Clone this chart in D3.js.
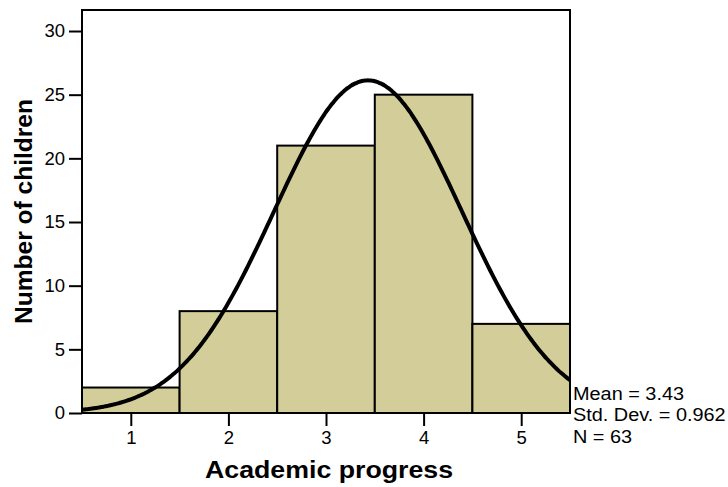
<!DOCTYPE html>
<html>
<head>
<meta charset="utf-8">
<script src="https://cdn.jsdelivr.net/npm/d3@7/dist/d3.min.js"></script>
<style>
  html, body { margin: 0; padding: 0; background: #fff; }
  svg text { font-family: "Liberation Sans", Arial, Helvetica, sans-serif; fill: #000; }
</style>
</head>
<body>
<svg id="chart" width="728" height="487"></svg>
<script>
// Histogram of academic progress scores (bins centred on 1..5)
const binCenters = [1, 2, 3, 4, 5];
const binCounts = [2, 8, 21, 25, 7];
const yTicks = [0, 5, 10, 15, 20, 25, 30];
const xTicks = [1, 2, 3, 4, 5];
const stats = { mean: 3.43, sd: 0.962, n: 63 };
const statLines = ["Mean = 3.43", "Std. Dev. = 0.962", "N = 63"];

const svg = d3.select("#chart");
const margin = { left: 82, right: 158, top: 10, bottom: 74 };
const W = 728, H = 487;
const x0 = margin.left, x1 = W - margin.right;
const y0 = H - margin.bottom, y1 = margin.top;

const x = d3.scaleLinear().domain([0.5, 5.5]).range([x0, x1]);
const y = d3.scaleLinear().domain([0, 31.65]).range([y0, y1]);

// bars
svg.append("g").selectAll("rect")
  .data(binCenters.map((c, i) => ({ c, v: binCounts[i] })))
  .join("rect")
  .attr("x", d => x(d.c - 0.5))
  .attr("width", d => x(d.c + 0.5) - x(d.c - 0.5))
  .attr("y", d => y(d.v))
  .attr("height", d => y(0) - y(d.v))
  .attr("fill", "#d3ce99")
  .attr("stroke", "#000")
  .attr("stroke-width", 2);

// fitted normal curve, scaled to counts per unit-width bin
const binWidth = 1;
const normal = t => stats.n * binWidth / (stats.sd * Math.sqrt(2 * Math.PI)) *
  Math.exp(-0.5 * Math.pow((t - stats.mean) / stats.sd, 2));
const curvePts = d3.range(0.5, 5.5001, 0.02).map(t => [t, normal(t)]);
svg.append("path")
  .datum(curvePts)
  .attr("fill", "none")
  .attr("stroke", "#000")
  .attr("stroke-width", 4)
  .attr("d", d3.line().x(d => x(d[0])).y(d => y(d[1])).curve(d3.curveBasis));

// plot frame
svg.append("rect")
  .attr("x", x0).attr("y", y1)
  .attr("width", x1 - x0).attr("height", y0 - y1)
  .attr("fill", "none").attr("stroke", "#000").attr("stroke-width", 2);

// y axis
const yAxis = svg.append("g")
  .attr("transform", `translate(${x0},0)`)
  .call(d3.axisLeft(y).tickValues(yTicks).tickFormat(d3.format("d")).tickSize(13).tickPadding(4));
yAxis.select(".domain").remove();
yAxis.selectAll(".tick line").attr("stroke", "#000").attr("stroke-width", 2);
yAxis.selectAll(".tick text").attr("font-size", 18.5)
  .style("font-family", '"Liberation Sans", Arial, sans-serif');

// x axis
const xAxis = svg.append("g")
  .attr("transform", `translate(0,${y0})`)
  .call(d3.axisBottom(x).tickValues(xTicks).tickFormat(d3.format("d")).tickSize(13).tickPadding(5));
xAxis.select(".domain").remove();
xAxis.selectAll(".tick line").attr("stroke", "#000").attr("stroke-width", 2);
xAxis.selectAll(".tick text").attr("font-size", 18.5)
  .style("font-family", '"Liberation Sans", Arial, sans-serif');

// axis titles
svg.append("text")
  .attr("x", (x0 + x1) / 2 + 3).attr("y", 478)
  .attr("text-anchor", "middle")
  .attr("font-size", 23).attr("font-weight", "bold")
  .attr("textLength", 248).attr("lengthAdjust", "spacingAndGlyphs")
  .text("Academic progress");

svg.append("text")
  .attr("transform", `translate(32,${(y0 + y1) / 2}) rotate(-90)`)
  .attr("text-anchor", "middle")
  .attr("font-size", 23).attr("font-weight", "bold")
  .attr("textLength", 225).attr("lengthAdjust", "spacingAndGlyphs")
  .text("Number of children");

// summary statistics, slightly widened to fit the right margin
svg.append("g")
  .attr("transform", `translate(${x1 + 3},0) scale(1.075,1)`)
  .selectAll("text")
  .data(statLines)
  .join("text")
  .attr("x", 0)
  .attr("y", (d, i) => 400 + i * 21.5)
  .attr("font-size", 18.5)
  .text(d => d);
</script>
</body>
</html>
